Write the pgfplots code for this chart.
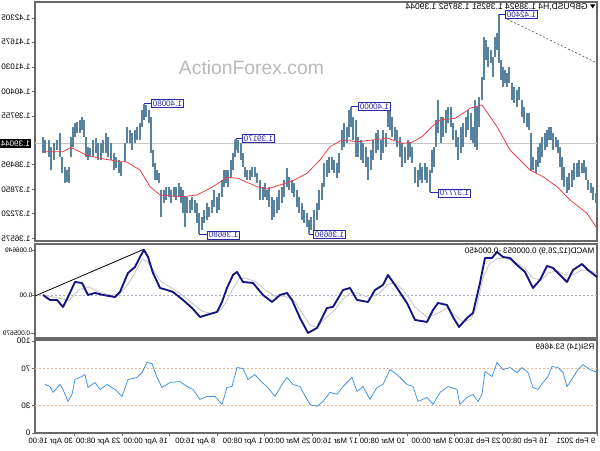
\documentclass[border=0pt]{standalone}
\usepackage{fontspec}
\setmainfont{Liberation Sans}
\usepackage{graphicx}
\usepackage{pgfplots}
\usepackage{pgfplotstable}
\pgfplotsset{compat=1.18}
\definecolor{barc}{RGB}{88,130,158}
\definecolor{mac}{RGB}{232,64,72}
\definecolor{framec}{RGB}{105,105,105}
\definecolor{macdc}{RGB}{20,20,130}
\definecolor{sigc}{RGB}{195,195,195}
\definecolor{rsic}{RGB}{60,140,225}
\definecolor{lvl}{RGB}{240,185,150}
\definecolor{zc}{RGB}{170,175,200}
\definecolor{lblc}{RGB}{40,40,170}
\definecolor{curc}{RGB}{200,200,200}
\definecolor{wm}{RGB}{185,185,185}
\newcommand\sz{\fontsize{6}{7}\selectfont}
\pgfplotstableread{
d h l
554 1.39211 1.38795
552 1.39133 1.38795
548 1.39133 1.38691
546 1.38951 1.38353
543 1.39055 1.38613
540 1.39133 1.38873
537 1.39315 1.38691
535 1.38691 1.38275
532 1.38431 1.38015
530 1.38353 1.38041
528 1.38431 1.38015
526 1.39211 1.38691
524 1.39471 1.38951
522 1.39575 1.39211
520 1.39601 1.39315
517 1.39653 1.39315
515 1.39731 1.39393
513 1.39653 1.39211
511 1.39211 1.38691
509 1.38951 1.38613
507 1.38925 1.38691
504 1.39133 1.38691
501 1.39185 1.38795
499 1.39055 1.38613
496 1.39055 1.38613
494 1.39133 1.38795
491 1.39315 1.38795
489 1.39211 1.38691
486 1.39055 1.38613
483 1.38795 1.38353
481 1.38691 1.38405
478 1.38613 1.38275
476 1.38561 1.38197
472 1.39055 1.38561
470 1.39471 1.39055
467 1.39393 1.39055
465 1.39315 1.38873
462 1.39393 1.39055
460 1.39471 1.39133
457 1.39575 1.39133
455 1.39913 1.39471
453 1.40080 1.39653
451 1.40043 1.39731
448 1.39913 1.39575
446 1.39731 1.38795
444 1.38873 1.38431
442 1.38535 1.38093
440 1.38353 1.38093
438 1.38275 1.38015
436 1.37833 1.37131
433 1.37833 1.37495
431 1.37911 1.37573
428 1.37911 1.37651
426 1.37833 1.37495
423 1.37911 1.37651
421 1.37911 1.37573
418 1.38015 1.37651
416 1.37911 1.37495
414 1.37833 1.37235
412 1.37651 1.36871
410 1.37651 1.37235
407 1.37573 1.37235
405 1.37651 1.37313
402 1.37573 1.37235
400 1.37495 1.36975
398 1.37235 1.36680
395 1.37131 1.36793
393 1.37313 1.36975
390 1.37495 1.37053
388 1.37391 1.37131
385 1.37573 1.37235
383 1.37833 1.37391
380 1.37651 1.37235
378 1.37755 1.37313
375 1.38093 1.37651
373 1.38353 1.37911
371 1.38353 1.38015
369 1.38353 1.37911
366 1.38613 1.38171
364 1.38795 1.38353
362 1.39133 1.38691
361 1.39170 1.38873
359 1.39133 1.38795
356 1.39055 1.38613
354 1.38795 1.38431
352 1.38431 1.38171
350 1.38353 1.38093
347 1.38353 1.38093
345 1.38431 1.38171
342 1.38431 1.38171
340 1.38275 1.38015
337 1.38093 1.37573
334 1.37911 1.37573
332 1.38015 1.37651
330 1.37833 1.37573
328 1.37911 1.37391
325 1.37651 1.37053
323 1.37573 1.37131
320 1.37651 1.37235
318 1.37833 1.37313
315 1.37911 1.37495
313 1.38093 1.37651
310 1.38405 1.37911
308 1.38171 1.37833
305 1.38093 1.37755
303 1.38015 1.37651
300 1.37833 1.37391
298 1.37651 1.37235
295 1.37495 1.37053
293 1.37313 1.36975
290 1.37235 1.36871
288 1.37053 1.36690
286 1.37131 1.36793
283 1.37313 1.36793
280 1.37495 1.37053
278 1.37833 1.37313
275 1.38015 1.37573
273 1.38535 1.37911
270 1.38613 1.38171
268 1.38691 1.38275
265 1.38691 1.38353
263 1.38613 1.38275
260 1.38535 1.38145
258 1.38795 1.38275
255 1.39393 1.38873
253 1.39575 1.38951
250 1.39471 1.39055
248 1.39913 1.39211
246 1.40000 1.39471
244 1.39731 1.39133
241 1.39653 1.38691
239 1.39211 1.38691
236 1.39133 1.38613
234 1.39055 1.38535
231 1.38951 1.38431
229 1.38691 1.38093
226 1.38873 1.38353
224 1.39133 1.38613
221 1.39315 1.38795
219 1.39393 1.38873
216 1.39133 1.38613
214 1.39393 1.38795
211 1.39315 1.38951
209 1.39913 1.39471
207 1.39913 1.39393
205 1.39731 1.39211
202 1.39471 1.39133
200 1.39393 1.38951
197 1.39211 1.38691
195 1.39055 1.38431
192 1.38951 1.38535
189 1.39133 1.38613
187 1.39055 1.38691
185 1.38951 1.38535
182 1.38431 1.38015
179 1.38353 1.37911
177 1.38535 1.38093
175 1.38431 1.38015
172 1.38535 1.38093
170 1.38431 1.38015
167 1.38353 1.37770
165 1.38873 1.38275
163 1.38951 1.38431
161 1.39653 1.38951
159 1.40173 1.39315
156 1.39731 1.39055
154 1.39731 1.39211
151 1.39913 1.39315
149 1.39991 1.39575
146 1.39991 1.39471
144 1.39575 1.39133
141 1.39393 1.38951
139 1.39211 1.38613
136 1.39471 1.38795
134 1.39575 1.38951
131 1.39731 1.39211
129 1.39913 1.39393
126 1.39835 1.39133
124 1.39471 1.39055
122 1.40173 1.38951
120 1.39991 1.38873
118 1.40251 1.39471
115 1.40771 1.40173
113 1.41811 1.40693
111 1.41733 1.41213
109 1.41551 1.41031
106 1.41473 1.41135
104 1.41291 1.40771
102 1.41811 1.41291
100 1.41915 1.41473
98 1.42400 1.41135
96 1.41213 1.40693
94 1.41031 1.40511
92 1.40953 1.40615
90 1.40875 1.40511
88 1.41031 1.40615
85 1.40615 1.40173
83 1.40511 1.40095
80 1.40433 1.39991
78 1.40511 1.40173
75 1.40173 1.39731
73 1.39991 1.39575
70 1.39835 1.39471
68 1.39835 1.39393
66 1.39315 1.38353
64 1.38691 1.38353
61 1.38613 1.38275
59 1.38951 1.38431
57 1.39055 1.38535
55 1.39211 1.38691
52 1.39315 1.38873
50 1.39393 1.38951
48 1.39471 1.39133
46 1.39471 1.39133
44 1.39315 1.38873
41 1.39211 1.38951
39 1.39133 1.38795
37 1.38951 1.38431
35 1.38691 1.38093
33 1.38431 1.37911
30 1.38171 1.37755
28 1.38275 1.37833
25 1.38353 1.37911
23 1.38535 1.38093
20 1.38535 1.38171
18 1.38613 1.38171
15 1.38535 1.38275
13 1.38613 1.38275
11 1.38431 1.38093
9 1.38093 1.37833
6 1.38015 1.37755
4 1.37911 1.37573
1 1.37755 1.37495
0.3 1.37651 1.37313
}\bars
\pgfplotsset{mt/.style={scale only axis, width=421.5pt, x dir=reverse, xmin=0, xmax=562,
  anchor=south west, clip=false,
  axis line style={draw=framec, line width=0.9pt},
  tick style={draw=framec, line width=0.5pt}, major tick length=2.25pt, tick align=outside,
  xtick=\empty, ytick pos=left, scaled y ticks=false,
  tick label style={font=\sz, text=black},
  yticklabel style={anchor=east, inner sep=1pt}}}
\begin{document}
\begin{tikzpicture}[x=1pt,y=1pt]
\path[use as bounding box] (0,0) rectangle (450,337.5);
% ---------------- main price panel
\begin{axis}[mt, at={(26.25pt,156.75pt)}, height=179.25pt, ymin=1.36507, ymax=1.42721,
  ytick={1.36575,1.37220,1.37850,1.38495,1.39755,1.40400,1.41030,1.41675,1.42305},
  yticklabels={\reflectbox{1.36575},\reflectbox{1.37220},\reflectbox{1.37850},\reflectbox{1.38495},\reflectbox{1.39755},\reflectbox{1.40400},\reflectbox{1.41030},\reflectbox{1.41675},\reflectbox{1.42305}}]
\addplot[curc, line width=0.5pt, forget plot] coordinates {(562,1.39044) (0,1.39044)};
\addplot[draw=none, forget plot, error bars/.cd, y dir=plus, y explicit, error mark=none,
  error bar style={draw=barc, line width=0.85pt}]
  table[x=d, y=l, y error plus expr=\thisrow{h}-\thisrow{l}] \bars;
\addplot[mac, line width=0.6pt, forget plot] coordinates {
(554,1.38829) (534,1.38829) (526,1.38943) (511,1.38743) (497,1.38657) (477,1.38569)
(471,1.38569) (457,1.38353) (447,1.37919) (437,1.37703) (414,1.37659) (400,1.37703)
(384,1.37919) (370,1.38163) (359,1.38137) (340,1.37919) (330,1.37859) (317,1.37963)
(304,1.38075) (290,1.38267) (277,1.38613) (267,1.38959) (255,1.39133) (239,1.39089)
(219,1.39151) (209,1.39177) (195,1.39047) (185,1.39073) (175,1.39219) (165,1.39479)
(157,1.39653) (142,1.39697) (129,1.39913) (127,1.39960) (115,1.40043) (100,1.39479)
(87,1.38873) (67,1.38353) (54,1.38179) (40,1.37919) (27,1.37573) (10,1.37227) (0,1.36837)};
\addplot[gray!70!black, line width=0.5pt, dash pattern=on 1.5pt off 1.5pt, forget plot]
  coordinates {(90,1.42279) (0,1.41135)};
% price labels
\tikzset{lbl/.style={draw=lblc, fill=white, text=lblc, line width=0.5pt, inner xsep=1.2pt, inner ysep=0.9pt, font=\sz, anchor=west}}
\draw[lblc, line width=0.5pt] (axis cs:453,1.40080) -- (axis cs:446,1.40080);
\node[lbl] at (axis cs:446,1.40080) {\reflectbox{1.40080}};
\draw[lblc, line width=0.5pt] (axis cs:361,1.39170) -- (axis cs:355,1.39170);
\node[lbl] at (axis cs:355,1.39170) {\reflectbox{1.39170}};
\draw[lblc, line width=0.5pt] (axis cs:398,1.36680) -- (axis cs:390,1.36680);
\node[lbl] at (axis cs:390,1.36660) {\reflectbox{1.36680}};
\draw[lblc, line width=0.5pt] (axis cs:288,1.36690) -- (axis cs:284,1.36690);
\node[lbl] at (axis cs:284,1.36670) {\reflectbox{1.36690}};
\draw[lblc, line width=0.5pt] (axis cs:246,1.40000) -- (axis cs:239,1.40000);
\node[lbl] at (axis cs:239,1.40000) {\reflectbox{1.40000}};
\draw[lblc, line width=0.5pt] (axis cs:167,1.37770) -- (axis cs:159,1.37770);
\node[lbl] at (axis cs:159,1.37750) {\reflectbox{1.37770}};
\draw[lblc, line width=0.5pt] (axis cs:98,1.42400) -- (axis cs:92,1.42400);
\node[lbl] at (axis cs:92,1.42400) {\reflectbox{1.42400}};
% current price label
\node[fill=black, text=white, font=\sz, inner xsep=1.2pt, inner ysep=1pt, anchor=east] at (axis cs:562,1.39044) [xshift=-2.5pt] {\reflectbox{1.39044}};
\end{axis}
% ---------------- MACD panel
\begin{axis}[mt, at={(26.25pt,84pt)}, height=70.5pt, ymin=-0.00639, ymax=0.00757,
  ytick={-0.005679,0,0.006649},
  yticklabels={\reflectbox{-0.005679},\reflectbox{0.00},\reflectbox{0.006649}},
  yticklabel style={font=\fontsize{4.9}{6}\selectfont, inner sep=0.3pt, xshift=0.8pt}]
\addplot[zc, line width=0.5pt, dash pattern=on 1.5pt off 1.5pt, forget plot] coordinates {(562,0) (0,0)};
\addplot[sigc, line width=0.6pt, forget plot] coordinates {
(554,0) (540,-0.0004) (528,-0.0008) (518,0.0008) (508,0.0012) (498,0.0004) (486,0)
(478,0.0001) (470,0.0014) (463,0.0030) (458,0.0045) (455,0.0053) (450,0.0050) (443,0.0035)
(436,0.0020) (425,0.0010) (415,0) (405,-0.0012) (395,-0.0024) (385,-0.0028) (376,-0.0022)
(370,-0.0008) (364,0.0010) (358,0.0024) (352,0.0025) (342,0.0020) (332,0.0008) (322,-0.0002)
(312,-0.0002) (303,-0.0008) (295,-0.0026) (287,-0.0045) (280,-0.0048) (272,-0.0035)
(262,-0.0022) (254,-0.0006) (246,0.0004) (238,0.0002) (228,-0.0004) (218,0.0002)
(209,0.0016) (202,0.0018) (192,0.0004) (182,-0.0018) (170,-0.0033) (160,-0.0028)
(150,-0.0020) (142,-0.0030) (134,-0.0040) (126,-0.0036) (120,-0.0015) (114,0.0025)
(108,0.0045) (100,0.0054) (92,0.0055) (82,0.0049) (72,0.0040) (64,0.0025) (56,0.0022)
(48,0.0033) (40,0.0036) (32,0.0030) (24,0.0030) (15,0.0037) (6,0.0036) (0,0.0031)};
\addplot[macdc, line width=1.4pt, line join=round, forget plot] coordinates {
(554,0) (547,-0.00074) (540,-0.00074) (534,-0.00178) (529,-0.0003) (522,0.00193)
(515,0.00178) (509,0) (502,0.0003) (494,0) (482,-0.0003) (477,0.00045) (469,0.00327)
(462,0.00416) (457,0.00564) (453,0.00668) (449,0.00564) (444,0.00327) (437,0.00104)
(430,0.00074) (424,0.00045) (414,-0.00074) (405,-0.00193) (397,-0.00327) (387,-0.00282)
(380,-0.00252) (375,-0.00104) (370,0.00104) (364,0.00297) (360,0.00342) (354,0.00193)
(344,0.00178) (334,0) (325,-0.00104) (317,0) (310,0.0003) (305,-0.00074) (297,-0.00342)
(289,-0.00564) (280,-0.0049) (270,-0.00193) (264,-0.00178) (254,0.00074) (247,0.00104)
(240,-0.00074) (229,-0.00104) (222,0.00074) (214,0.00149) (209,0.00297) (200,0.00104)
(190,-0.00119) (182,-0.00371) (170,-0.00401) (164,-0.00223) (159,-0.00119) (150,-0.00149)
(144,-0.00327) (138,-0.00475) (130,-0.00342) (124,-0.00267) (117,0.00178) (112,0.00549)
(105,0.00549) (100,0.00639) (94,0.00564) (87,0.00549) (80,0.00446) (72,0.00342)
(64,0.00104) (57,0.00223) (50,0.00431) (44,0.00401) (37,0.00297) (30,0.00193)
(24,0.00371) (15,0.0046) (9,0.00371) (0,0.00267)};
\addplot[black, line width=0.6pt, forget plot] coordinates {(562,-0.00015) (453,0.00679)};
\end{axis}
% ---------------- RSI panel
\begin{axis}[mt, at={(26.25pt,12.75pt)}, height=69.75pt, ymin=0, ymax=101,
  ytick={0,30,70,100}, yticklabels={\reflectbox{0},\reflectbox{30},\reflectbox{70},\reflectbox{100}},
  xtick={0,47.5,95,142.5,190,237.5,285,332.5,380,427.5,475,522.5}, xtick pos=left,
  xticklabels={\reflectbox{9 Feb 2021},\reflectbox{16 Feb 08:00},\reflectbox{23 Feb 16:00},\reflectbox{3 Mar 00:00},\reflectbox{10 Mar 08:00},\reflectbox{17 Mar 16:00},\reflectbox{25 Mar 00:00},\reflectbox{1 Apr 08:00},\reflectbox{8 Apr 16:00},\reflectbox{16 Apr 00:00},\reflectbox{23 Apr 08:00},\reflectbox{30 Apr 16:00}},
  xticklabel style={anchor=north east, inner sep=1pt, font=\fontsize{5.8}{7}\selectfont}]
\addplot[lvl, line width=0.5pt, dash pattern=on 1.5pt off 1.5pt, forget plot] coordinates {(562,70) (0,70)};
\addplot[lvl, line width=0.5pt, dash pattern=on 1.5pt off 1.5pt, forget plot] coordinates {(562,30) (0,30)};
\addplot[rsic, line width=0.55pt, forget plot] coordinates {
(552,52.7) (547,50.5) (544,44.1) (537,52.7) (534,47.3) (529,34.3) (525,41.9) (522,58.1)
(517,60.3) (512,63.5) (509,49.5) (502,54.9) (497,47.3) (490,52.7) (482,47.3) (475,39.7)
(469,58.1) (460,60.3) (455,65.7) (450,76.5) (445,75.4) (440,60.3) (435,49.5) (427,54.9)
(417,55.9) (410,50.5) (404,47.3) (397,36.5) (390,39.7) (382,39.7) (375,31.1) (370,49.5)
(365,50.5) (360,71.1) (354,70.0) (349,58.1) (342,63.5) (335,54.9) (330,50.5) (322,39.7)
(315,52.7) (310,60.3) (304,52.7) (297,50.5) (294,44.1) (287,31.1) (280,28.9) (274,34.3)
(267,44.1) (260,41.9) (254,50.5) (245,60.3) (240,45.1) (234,50.5) (227,36.5) (220,49.5)
(214,52.7) (207,68.9) (200,63.5) (190,52.7) (184,50.5) (179,34.3) (170,38.6) (164,31.1)
(157,44.1) (149,50.5) (140,47.3) (137,31.1) (130,38.6) (124,41.9) (119,34.3) (115,41.9)
(112,66.8) (105,61.3) (100,76.5) (94,68.9) (87,71.1) (80,65.7) (75,71.1) (69,65.7)
(64,49.5) (59,47.3) (54,54.9) (49,61.3) (45,72.2) (39,71.1) (34,65.7) (30,50.5)
(24,60.3) (19,68.9) (14,74.3) (7,68.9) (0,65.7)};
\end{axis}
% ---------------- headers and watermark
\node[font=\fontsize{6.4}{7.5}\selectfont, anchor=east, inner sep=0pt] at (441,332.25) {\reflectbox{GBPUSD,H4 1.38924 1.39251 1.38752 1.39044}};
\fill[black] (442.5,334.3) -- (446.5,334.3) -- (444.5,331.3) -- cycle;
\node[font=\sz, anchor=east, inner sep=0pt] at (446,149.25) {\reflectbox{MACD(12,26,9) 0.000053 -0.000450}};
\node[font=\sz, anchor=east, inner sep=0pt] at (446,77.25) {\reflectbox{RSI(14) 53.4669}};
\node[font=\fontsize{14.5}{16}\selectfont, text=wm, inner sep=0pt] at (188.6,287) {ActionForex.com};
\end{tikzpicture}
\end{document}
